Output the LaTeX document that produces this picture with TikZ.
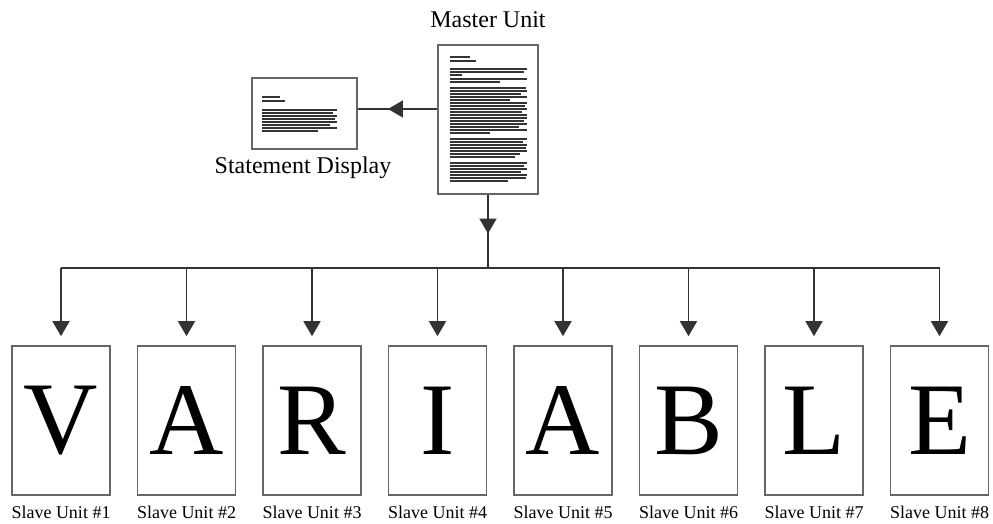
\documentclass[tikz,border=0pt]{standalone}
\usepackage{fontspec}
\setmainfont{Liberation Serif}
\usetikzlibrary{arrows.meta,decorations.markings}
\def \TipLen {15pt}
\tikzstyle{unit}=[
  draw=black!60,
  line width=1.6pt,
  minimum width=98pt,
  minimum height=149pt,
  inner sep=0pt,
  font=\fontsize{103}{103}\selectfont
]
\tikzstyle{page}=[
  draw=black!60,
  line width=1.6pt,
  inner sep=0pt
]
\tikzstyle{link}=[draw=black!80, line width=1.6pt]
\tikzstyle{tip}=[-{Triangle[length=\TipLen,width=17pt]}]
\tikzstyle{greek}=[draw=black!80, line width=1.3pt]
\tikzset{midtip/.style={
  postaction={decorate},
  decoration={markings, mark=at position #1 with {\arrow{Triangle[length=\TipLen,width=17pt]}}}
}}

\begin{document}
\begin{tikzpicture}[x=1pt,y=-1pt]
  \useasboundingbox (0,0) rectangle (993,524);
  \def \x {61}
  \def \xOff {125.5}
  \def \busY {268}

  % master unit and statement display
  \node[page, minimum width=100pt, minimum height=149pt] (master) at (488,119.5) {};
  \node[font=\fontsize{24}{26}\selectfont] (masterlbl) at (488,20) {Master Unit};
  \node[page, minimum width=105pt, minimum height=71pt] (display) at (304.5,113.5) {};
  \node[font=\fontsize{24}{26}\selectfont] (displaylbl) at (303,168) {Statement Display};

  % greeked page text
  \foreach \yy/\e in {57/470,61/476,69/527,72/524,75/462,79/527,82/500,
                      88/526,91/527,94/521,97/527,100/510,103/527,106/525,109/527,
                      112/522,115/527,118/527,121/524,124/527,127/519,130/527,133/490,
                      139/527,142/523,145/527,148/526,151/527,154/520,157/515,
                      163/527,166/524,169/527,172/521,175/527,178/526,181/508}{
    \draw[greek] (450,\yy) -- (\e,\yy);
  }
  \foreach \yy/\e in {97/280,101/285,110/337,113/333,116/337,119/335,122/337,125/330,128/337,131/318}{
    \draw[greek] (262,\yy) -- (\e,\yy);
  }

  \draw[link, midtip=0.62] ([yshift=4.5pt]display.east -| master.west) -- ([yshift=4.5pt]display.east);

  \coordinate (hub) at (master.south |- 0,\busY);
  \draw[link, midtip=0.53] (master) -- (hub);

  % slave units
  \foreach \i/\c in {1/V,2/A,3/R,4/I,5/A,6/B,7/L,8/E}{
    \node[unit] (s\i) at ({\x+(\i-1)*\xOff},420.5) {\c};
    \node[font=\fontsize{18}{20}\selectfont] (l\i) at ({\x+(\i-1)*\xOff},512) {Slave Unit \#\i};
    \coordinate (b\i) at (s\i.north |- 0,\busY);
    \draw[link, tip, shorten >=9pt] (b\i) -- (s\i);
  }
  \draw[link] (b1) -- (b8);
\end{tikzpicture}
\end{document}
